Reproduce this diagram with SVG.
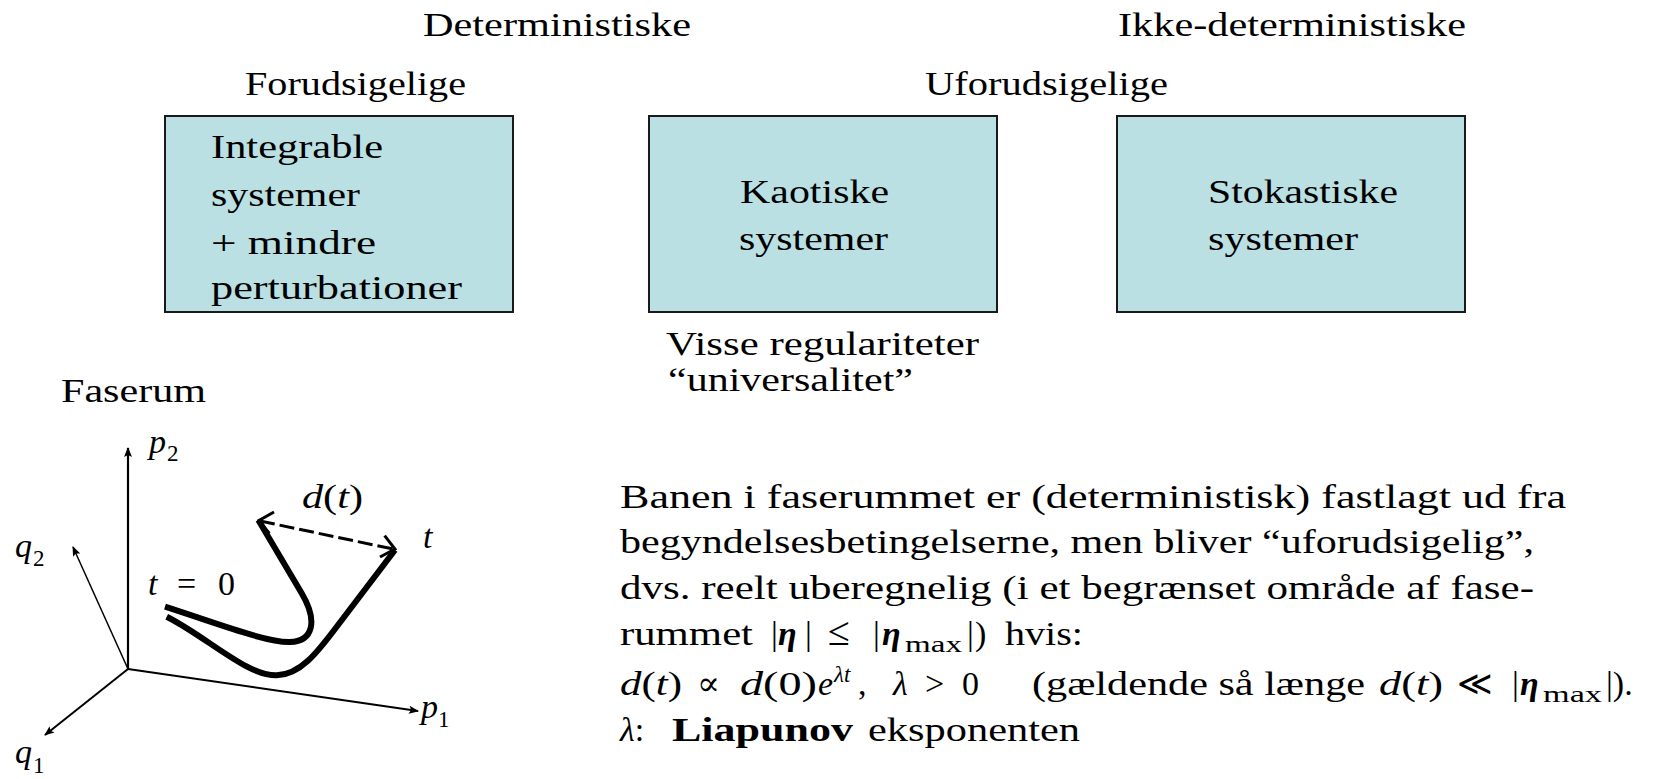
<svg xmlns="http://www.w3.org/2000/svg" width="1654" height="779" viewBox="0 0 1654 779">
<style>
text{font-family:"Liberation Serif","DejaVu Serif",serif;font-size:34px;fill:#000}
.i{font-style:italic}
.b{font-weight:bold}
.bi{font-weight:bold;font-style:italic}
.s{font-size:23px}
.box{fill:#BAE0E3;stroke:#1a1a1a;stroke-width:2}
.ax{stroke:#000;fill:none}
.curve{stroke:#000;stroke-width:6;fill:none}
</style>
<defs>
<marker id="ah" viewBox="0 0 10 8" refX="9" refY="4" markerWidth="11" markerHeight="8" markerUnits="userSpaceOnUse" orient="auto">
<path d="M0,0 L10,4 L0,8 L2,4 z" fill="#000"/>
</marker>
</defs>
<rect width="1654" height="779" fill="#fff"/>

<g id="headers">
<text x="423" y="36" textLength="268" lengthAdjust="spacingAndGlyphs">Deterministiske</text>
<text x="1118" y="36" textLength="348" lengthAdjust="spacingAndGlyphs">Ikke-deterministiske</text>
<text x="245" y="95" textLength="221" lengthAdjust="spacingAndGlyphs">Forudsigelige</text>
<text x="925" y="95" textLength="243" lengthAdjust="spacingAndGlyphs">Uforudsigelige</text>
</g>

<g id="node-integrable">
<rect class="box" x="165" y="116" width="348" height="196"/>
<text x="211" y="158" textLength="172" lengthAdjust="spacingAndGlyphs">Integrable</text>
<text x="211" y="206" textLength="149" lengthAdjust="spacingAndGlyphs">systemer</text>
<text x="211" y="254" textLength="165" lengthAdjust="spacingAndGlyphs">+ mindre</text>
<text x="211" y="299" textLength="251" lengthAdjust="spacingAndGlyphs">perturbationer</text>
</g>

<g id="node-kaotiske">
<rect class="box" x="649" y="116" width="348" height="196"/>
<text x="740" y="203" textLength="149" lengthAdjust="spacingAndGlyphs">Kaotiske</text>
<text x="739" y="250" textLength="149" lengthAdjust="spacingAndGlyphs">systemer</text>
</g>

<g id="node-stokastiske">
<rect class="box" x="1117" y="116" width="348" height="196"/>
<text x="1208" y="203" textLength="190" lengthAdjust="spacingAndGlyphs">Stokastiske</text>
<text x="1208" y="250" textLength="150" lengthAdjust="spacingAndGlyphs">systemer</text>
</g>

<g id="note-regularitet">
<text x="666" y="355" textLength="313" lengthAdjust="spacingAndGlyphs">Visse regulariteter</text>
<text x="668" y="391" textLength="245" lengthAdjust="spacingAndGlyphs">“universalitet”</text>
</g>

<g id="faserum-label">
<text x="61" y="402" textLength="145" lengthAdjust="spacingAndGlyphs">Faserum</text>
</g>

<g id="connectors">
<line class="ax" x1="128" y1="669" x2="128" y2="448" stroke-width="2.2" marker-end="url(#ah)"/>
<line class="ax" x1="128" y1="669" x2="73" y2="547" stroke-width="1.5" marker-end="url(#ah)"/>
<line class="ax" x1="128" y1="669" x2="45" y2="735" stroke-width="2" marker-end="url(#ah)"/>
<line class="ax" x1="128" y1="669" x2="418" y2="711" stroke-width="2" marker-end="url(#ah)"/>
<path class="curve" d="M165,606.7 C216.7,623.3 266.7,642.7 290,642 C313.3,641.3 318,621 301.7,593.3 L258.3,520"/>
<path class="curve" d="M166.7,616.7 C206.7,636.7 246.7,676 276.7,675.3 C300,674.7 316.7,653.3 336.7,626.7 L395,550"/>
<line x1="260" y1="521" x2="393" y2="549" stroke="#000" stroke-width="3" stroke-dasharray="15 5"/>
<polyline points="274,512 259,520.5 269.4,533.4" fill="none" stroke="#000" stroke-width="3"/>
<polyline points="384.6,535.6 395,549 380,557" fill="none" stroke="#000" stroke-width="3"/>
</g>

<g id="phase-labels">
<text x="149" y="453"><tspan class="i">p</tspan><tspan class="s" x="167" y="461">2</tspan></text>
<text x="15" y="557"><tspan class="i">q</tspan><tspan class="s" x="33" y="566">2</tspan></text>
<text x="15" y="763"><tspan class="i">q</tspan><tspan class="s" x="33" y="773">1</tspan></text>
<text x="421" y="718"><tspan class="i">p</tspan><tspan class="s" x="438" y="727">1</tspan></text>
<text x="302" y="508" textLength="61" lengthAdjust="spacingAndGlyphs"><tspan class="i">d</tspan>(<tspan class="i">t</tspan>)</text>
<text class="i" x="423" y="548">t</text>
<text x="148" y="595"><tspan class="i">t</tspan><tspan x="177">=</tspan><tspan x="218">0</tspan></text>
</g>

<g id="explanation">
<text x="620" y="508" textLength="946" lengthAdjust="spacingAndGlyphs">Banen i faserummet er (deterministisk) fastlagt ud fra</text>
<text x="620" y="553" textLength="914" lengthAdjust="spacingAndGlyphs">begyndelsesbetingelserne, men bliver “uforudsigelig”,</text>
<text x="620" y="599" textLength="914" lengthAdjust="spacingAndGlyphs">dvs. reelt uberegnelig (i et begrænset område af fase-</text>
<text x="620" y="645" textLength="133" lengthAdjust="spacingAndGlyphs">rummet</text>
<text x="771" y="645">|</text>
<text class="bi" x="778" y="645">η</text>
<text x="805" y="645">|</text>
<text x="828" y="645" style="font-size:40px">≤</text>
<text x="873" y="645">|</text>
<text class="bi" x="882" y="645">η</text>
<text class="s" x="905" y="652" textLength="57" lengthAdjust="spacingAndGlyphs">max</text>
<text x="967" y="645">|</text>
<text x="975" y="645">)</text>
<text x="1005" y="645" textLength="78" lengthAdjust="spacingAndGlyphs">hvis:</text>

<text x="620" y="695" textLength="62" lengthAdjust="spacingAndGlyphs"><tspan class="i">d</tspan>(<tspan class="i">t</tspan>)</text>
<text x="697" y="695">∝</text>
<text x="740" y="695" textLength="77" lengthAdjust="spacingAndGlyphs"><tspan class="i">d</tspan>(0)</text>
<text class="i" x="818" y="695">e</text>
<text class="i s" x="834" y="682">λt</text>
<text x="858" y="695">,</text>
<text class="i" x="893" y="695">λ</text>
<text x="925" y="695">&gt;</text>
<text x="962" y="695">0</text>
<text x="1032" y="695" textLength="333" lengthAdjust="spacingAndGlyphs">(gældende så længe</text>
<text x="1379" y="695" textLength="64" lengthAdjust="spacingAndGlyphs"><tspan class="i">d</tspan>(<tspan class="i">t</tspan>)</text>
<text x="1457" y="695">≪</text>
<text x="1512" y="695">|</text>
<text class="bi" x="1520" y="695">η</text>
<text class="s" x="1543" y="702" textLength="59" lengthAdjust="spacingAndGlyphs">max</text>
<text x="1606" y="695">|).</text>

<text x="620" y="741"><tspan class="i">λ</tspan>:</text>
<text class="b" x="672" y="741" textLength="181" lengthAdjust="spacingAndGlyphs">Liapunov</text>
<text x="868" y="741" textLength="212" lengthAdjust="spacingAndGlyphs">eksponenten</text>
</g>
</svg>
